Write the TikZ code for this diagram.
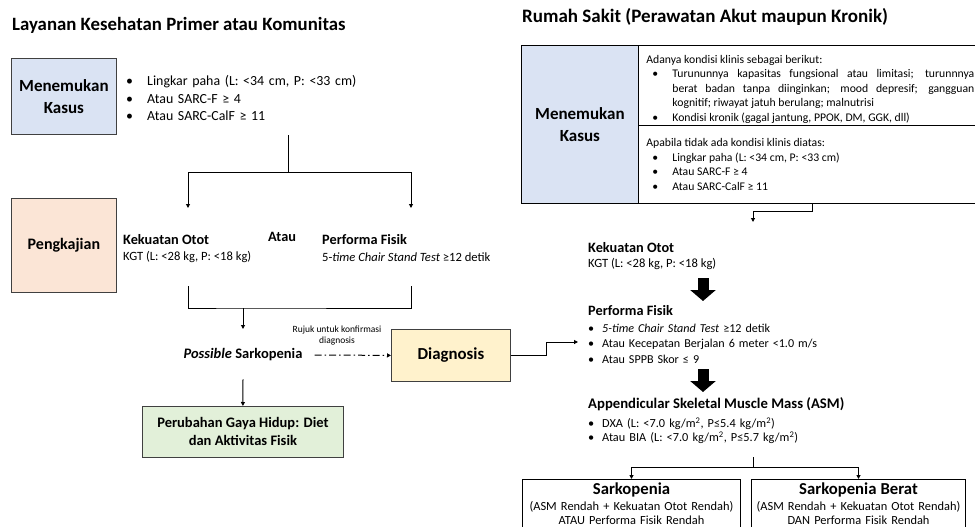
\documentclass[tikz,border=0pt]{standalone}
\usepackage{fontspec}
\setmainfont{Carlito}
\usetikzlibrary{arrows.meta,positioning}
\definecolor{kasusblue}{HTML}{DAE3F3}
\definecolor{kajipeach}{HTML}{FBE5D6}
\definecolor{diagyellow}{HTML}{FFF2CC}
\definecolor{hidupgreen}{HTML}{E2F0D9}
\def\fs#1#2{\fontsize{#1}{#2}\selectfont}
\def\bul#1#2#3{\par\hangindent=#1\hangafter=0\noindent\llap{\makebox[#1][l]{\hspace{#2}\textbullet}}#3}

\begin{document}
\begin{tikzpicture}[x=1pt,y=-1pt,
   tbox/.style={draw=black!75,line width=0.8pt,align=center,font=\bfseries\fs{17}{20}},
   rcell/.style={draw=black,line width=0.8pt,anchor=north west},
   txt/.style={inner sep=0pt,anchor=west},
   hd/.style={txt,font=\bfseries\fs{14.3}{16}},
   sm/.style={txt,font=\fs{12.6}{14}},
   line/.style={line width=1pt},
   arr/.style={line width=1pt,-{Triangle[length=4pt,width=4pt]}},
   bigarr/.style={line width=11pt,-{Triangle[length=11pt,width=25pt]}}]
\useasboundingbox (0,0) rectangle (975,527);
%
% Layanan primer
       \node [txt,font=\bfseries\fs{18.8}{22}] at (12,25) (ltitle) {Layanan Kesehatan Primer atau Komunitas};
          \node [tbox,fill=kasusblue,minimum width=105pt,minimum height=76pt,anchor=north west,font=\bfseries\fs{17}{22}] at (11,58) (lkasus) {Menemukan\\Kasus};
             \node [txt,text width=260pt,font=\fs{13.9}{17.5}] at (126,94.5) (lbul) {\bul{21pt}{0pt}{Lingkar paha (L: <34 cm, P: <33 cm)}\bul{21pt}{0pt}{Atau SARC-F ≥ 4}\bul{21pt}{0pt}{Atau SARC-CalF ≥ 11}\par};
          \node [tbox,fill=kajipeach,minimum width=105pt,minimum height=94pt,anchor=north west,font=\bfseries\fs{16}{20}] at (11,198) (lkaji) {Pengkajian};
                \node [hd] at (123,240) (lkuat) {Kekuatan Otot};
                \node [sm] at (123,257) (lkgt) {KGT (L: <28 kg, P: <18 kg)};
                \node [hd] at (268,237) (latau) {Atau};
                \node [hd] at (322,240) (lperf) {Performa Fisik};
                \node [sm] at (322,257) (lchair) {5-\textit{time Chair Stand Test} ≥12 detik};
                  \node [inner sep=0pt,font=\bfseries\fs{14.5}{16}] at (243,355) (lposs) {\textit{Possible} Sarkopenia};
                  \node [align=center,inner sep=0pt,font=\fs{9.5}{11}] at (337,336) (lrujuk) {Rujuk untuk konfirmasi\\diagnosis};
                   \node [tbox,fill=diagyellow,minimum width=119pt,minimum height=52pt,anchor=north west,font=\bfseries\fs{16.8}{19}] at (391,329) (ldiag) {Diagnosis};
                    \node [tbox,fill=hidupgreen,minimum width=201pt,minimum height=51pt,anchor=north west,font=\bfseries\fs{14.5}{18}] at (142,406) (lhidup) {Perubahan Gaya Hidup: Diet\\dan Aktivitas Fisik};
%
\coordinate (ltop) at (288,135);
\coordinate (lsplit) at (288,172);
\coordinate (lkuatin) at (188,208);
\coordinate (lperfin) at (411,208);
\coordinate (lbrl) at (188,286);
\coordinate (lbrr) at (411,286);
\coordinate (ljoin) at (243,308);
%
\draw[arr] (ltop) -- (lsplit) -| (lkuatin);
\draw[arr] (lsplit) -| (lperfin);
\draw[line] (lbrl) |- (ljoin) -| (lbrr);
\draw[arr] (ljoin) -- ++(0,21);
\draw[line,dash pattern=on 7pt off 3pt on 1.5pt off 3pt,-{Triangle[length=4pt,width=4pt]}] ([xshift=12pt]lposs.east) -- (ldiag.west);
\draw[arr] ([yshift=-18pt]lposs.south) -- (lhidup.north);
%
% Rumah sakit
       \node [txt,font=\bfseries\fs{19}{22}] at (522,17) (rtitle) {Rumah Sakit (Perawatan Akut maupun Kronik)};
          \node [rcell,fill=kasusblue,minimum width=117pt,minimum height=158pt,align=center,font=\bfseries\fs{17}{22}] at (521,45) (rkasus) {Menemukan\\Kasus};
             \node [rcell,minimum height=80pt,text width=328pt,inner xsep=8pt,inner ysep=1pt,align=justify,font=\fs{11.7}{14.5}] at (638,45) (rcond) {\noindent\rule{0pt}{15.5pt}Adanya kondisi klinis sebagai berikut:\bul{26pt}{6pt}{Turununnya kapasitas fungsional atau limitasi; turunnnya\linebreak berat badan tanpa diinginkan; mood depresif; gangguan\linebreak kognitif; riwayat jatuh berulang; malnutrisi}\bul{26pt}{6pt}{Kondisi kronik (gagal jantung, PPOK, DM, GGK, dll)}\par};
             \node [rcell,minimum height=78pt,text width=328pt,inner xsep=8pt,align=justify,font=\fs{11.7}{14.7}] at (638,125) (rcond2) {\noindent Apabila tidak ada kondisi klinis diatas:\bul{26pt}{6pt}{Lingkar paha (L: <34 cm, P: <33 cm)}\bul{26pt}{6pt}{Atau SARC-F ≥ 4}\bul{26pt}{6pt}{Atau SARC-CalF ≥ 11}\par};
                \node [hd] at (588,248) (rkuat) {Kekuatan Otot};
                \node [sm] at (588,264) (rkgt) {KGT (L: <28 kg, P: <18 kg)};
                \node [hd] at (588,311) (rperf) {Performa Fisik};
                \node [txt,text width=340pt,font=\fs{12.1}{15.5}] at (588,340) (rperfbul) {\bul{14pt}{0pt}{\textit{5-time Chair Stand Test} ≥12 detik}\bul{14pt}{0pt}{Atau Kecepatan Berjalan 6 meter <1.0 m/s}\bul{14pt}{0pt}{Atau SPPB Skor ≤ 9}\par};
                \node [txt,font=\bfseries\fs{14.7}{17}] at (588,404) (rasm) {Appendicular Skeletal Muscle Mass (ASM)};
                \node [txt,text width=340pt,font=\fs{12.3}{14}] at (588,429) (rasmbul) {\bul{14pt}{0pt}{DXA (L: <7.0 kg/m\textsuperscript{2}, P≤5.4 kg/m\textsuperscript{2})}\bul{14pt}{0pt}{Atau BIA (L: <7.0 kg/m\textsuperscript{2}, P≤5.7 kg/m\textsuperscript{2})}\par};
                  \node [draw=black,line width=0.8pt,anchor=north,text width=211pt,align=center,inner ysep=3pt,font=\fs{12.4}{14}] at (631.5,479) (rsark) {{\bfseries\fs{16.7}{17}Sarkopenia\par}\vspace{2pt}(ASM Rendah + Kekuatan Otot Rendah)\\ATAU Performa Fisik Rendah};
                  \node [draw=black,line width=0.8pt,anchor=north,text width=207pt,align=center,inner ysep=3pt,font=\fs{12.4}{14}] at (858.5,479) (rberat) {{\bfseries\fs{16.7}{17}Sarkopenia Berat\par}\vspace{2pt}(ASM Rendah + Kekuatan Otot Rendah)\\DAN Performa Fisik Rendah};
%
\coordinate (rbend) at (812,211);
\coordinate (rkuatin) at (753,222);
\coordinate (rperfin) at (578,342);
\coordinate (ra1) at (703,278);
\coordinate (ra1e) at (703,301);
\coordinate (ra2) at (703,369);
\coordinate (ra2e) at (703,392);
\coordinate (rforktop) at (753,457);
\coordinate (rfork) at (753,467);
%
\draw[arr] (rcond2.south -| rbend) -- (rbend) -| (rkuatin);
\draw[arr] (ldiag.east) -- ++(36,0) |- (rperfin);
\draw[bigarr] (ra1) -- (ra1e);
\draw[bigarr] (ra2) -- (ra2e);
\draw[arr] (rforktop) -- (rfork) -| (rsark.north);
\draw[arr] (rfork) -| (rberat.north);

\end{tikzpicture}
\end{document}
